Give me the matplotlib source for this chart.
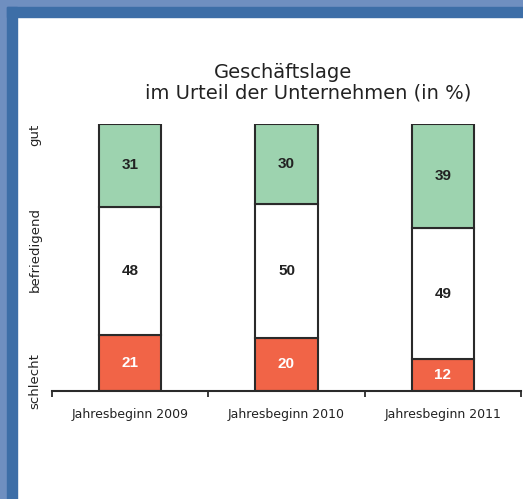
import numpy as np
import matplotlib
matplotlib.use("Agg")
import matplotlib.pyplot as plt
from matplotlib.patches import Rectangle

# --- Daten ---
jahre = ["Jahresbeginn 2009", "Jahresbeginn 2010", "Jahresbeginn 2011"]
schlecht = [21, 20, 12]
befriedigend = [48, 50, 49]
gut = [31, 30, 39]

stufen = ["schlecht", "befriedigend", "gut"]
stufen_pos = [3.7, 53, 96]   # vertikale Lage der Beschriftung (in %)

FARBE_GUT = "#9dd3af"
FARBE_BEF = "#ffffff"
FARBE_SCHL = "#f16447"
RAND = "#2a2a2a"

fig = plt.figure(figsize=(5.23, 4.99), dpi=100)
fig.patch.set_facecolor("white")

# Rahmen oben / links
W, H = 523, 499
fig.patches.append(Rectangle((0, 0), 7 / W, 1, transform=fig.transFigure,
                             color="#6f8fc0", zorder=0))
fig.patches.append(Rectangle((0, 1 - 7 / H), 1, 7 / H, transform=fig.transFigure,
                             color="#6f8fc0", zorder=0))
fig.patches.append(Rectangle((7 / W, 0), 10 / W, 1 - 7 / H, transform=fig.transFigure,
                             color="#3d6ea7", zorder=0))
fig.patches.append(Rectangle((7 / W, 1 - 17 / H), 1 - 7 / W, 10 / H,
                             transform=fig.transFigure, color="#3d6ea7", zorder=0))

ax = fig.add_axes([52 / W, (H - 391) / H, (521 - 52) / W, (391 - 124) / H])
ax.set_facecolor("none")

x = np.arange(len(jahre))
breite = 0.4
unten = np.array(schlecht)
mitte = np.array(befriedigend)

ax.bar(x, schlecht, breite, color=FARBE_SCHL, edgecolor=RAND, linewidth=1.5, zorder=2)
ax.bar(x, befriedigend, breite, bottom=unten, color=FARBE_BEF, edgecolor=RAND,
       linewidth=1.5, zorder=2)
ax.bar(x, gut, breite, bottom=unten + mitte, color=FARBE_GUT, edgecolor=RAND,
       linewidth=1.5, zorder=2)

zahl_font = dict(family="Liberation Sans", weight="bold", fontsize=11)
for i in range(len(jahre)):
    ax.text(x[i], schlecht[i] / 2, str(schlecht[i]), ha="center", va="center",
            color="white", **zahl_font)
    ax.text(x[i], schlecht[i] + befriedigend[i] / 2, str(befriedigend[i]),
            ha="center", va="center", color="#222222", **zahl_font)
    ax.text(x[i], schlecht[i] + befriedigend[i] + gut[i] / 2, str(gut[i]),
            ha="center", va="center", color="#222222", **zahl_font)

ax.set_xlim(-0.5, len(jahre) - 0.5)
ax.set_ylim(0, 100)
ax.set_xticks(x)
ax.set_xticklabels(jahre, fontsize=9, color="#222222")
ax.set_xticks(np.arange(len(jahre) + 1) - 0.5, minor=True)
ax.tick_params(axis="x", which="major", length=0, pad=12)
ax.tick_params(axis="x", which="minor", length=4, width=1.3, color=RAND, direction="out")
ax.set_yticks([])
for s in ["top", "right", "left"]:
    ax.spines[s].set_visible(False)
ax.spines["bottom"].set_color(RAND)
ax.spines["bottom"].set_linewidth(1.5)

for name, pos in zip(stufen, stufen_pos):
    ax.text(-17 / 469, pos, name, rotation=90, ha="center", va="center",
            fontsize=9.5, color="#222222", transform=ax.get_yaxis_transform(),
            clip_on=False)

fig.text(283 / W, 1 - 73 / H, "Geschäftslage", ha="center", va="center",
         fontsize=14, color="#222222")
fig.text(308 / W, 1 - 93 / H, "im Urteil der Unternehmen (in %)", ha="center",
         va="center", fontsize=14, color="#222222")

fig.savefig("out.png", dpi=100)
